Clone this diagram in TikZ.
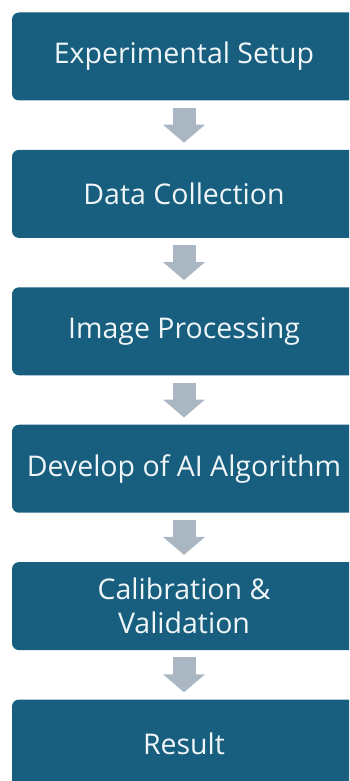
\documentclass[tikz,border=0pt]{standalone}
\usepackage{fontspec}
\setmainfont{Open Sans}
\usetikzlibrary{positioning,arrows.meta}

\definecolor{stepblue}{RGB}{23,94,127}
\definecolor{arrowgray}{RGB}{171,182,195}
\definecolor{steptext}{RGB}{240,246,248}

\tikzset{
	stepbox/.style={rectangle, rounded corners=7pt, fill=stepblue, draw=none,
		minimum width=344pt, minimum height=88pt, inner sep=0pt,
		text=steptext, align=center, font=\fontsize{28.5}{34}\selectfont},
	blockarrow/.style={draw=arrowgray, line width=23pt,
		-{Triangle[width=41pt,length=18pt]}, arrowgray}
}

\begin{document}
\begin{tikzpicture}[x=1pt,y=1pt]
% border
\useasboundingbox (0,0) rectangle (349,-781);
\clip (0,0) rectangle (349,-781);

% boxes
\node[stepbox] (setup) at (184,-56.5) {Experimental Setup};
\node[stepbox, below=49pt of setup] (collect) {Data Collection};
\node[stepbox, below=49pt of collect] (process) {Image Processing};
\node[stepbox, below=49pt of process] (develop) {Develop of AI Algorithm};
\node[stepbox, below=49pt of develop] (calib) {Calibration \&\\Validation};
\node[stepbox, below=49pt of calib] (result) {Result};

% arrows
\foreach \a/\b in {setup/collect, collect/process, process/develop, develop/calib, calib/result} {
	\draw[blockarrow] ([yshift=-7pt]\a.south) -- ([yshift=7pt]\b.north);
}
\end{tikzpicture}
\end{document}
